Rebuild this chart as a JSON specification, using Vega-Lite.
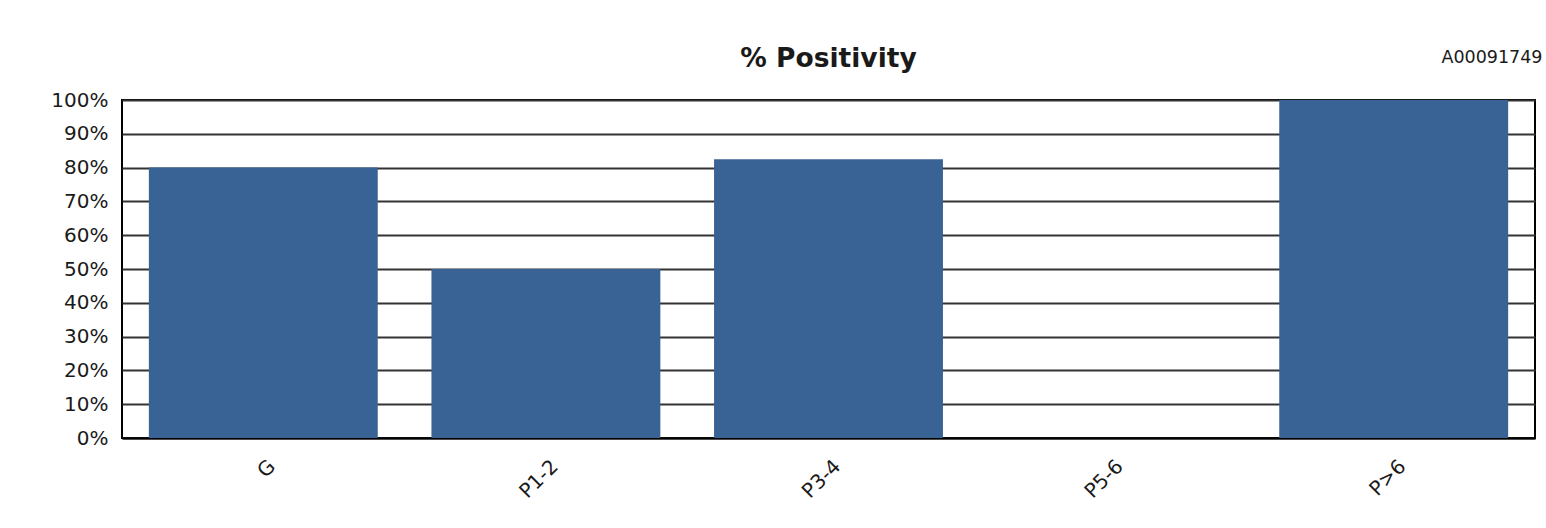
{
  "$schema": "https://vega.github.io/schema/vega-lite/v6.json",
  "autosize": {"type": "none"},
  "padding": {"left": 122, "top": 100, "right": 11, "bottom": 90},
  "width": 1413,
  "height": 338,
  "background": "white",
  "title": {
    "text": "% Positivity",
    "font": "DejaVu Sans",
    "fontSize": 26.5,
    "fontWeight": "bold",
    "color": "#1a1a1a",
    "anchor": "middle",
    "frame": "group",
    "baseline": "alphabetic",
    "offset": 4,
    "dy": 49
  },
  "data": {
    "values": [
      {"group": "G", "positivity": 0.80},
      {"group": "P1-2", "positivity": 0.50},
      {"group": "P3-4", "positivity": 0.825},
      {"group": "P5-6", "positivity": 0},
      {"group": "P>6", "positivity": 1.0}
    ]
  },
  "mark": {"type": "bar", "color": "#386394"},
  "encoding": {
    "x": {
      "field": "group",
      "type": "nominal",
      "sort": null,
      "scale": {"paddingInner": 0.19, "paddingOuter": 0.095},
      "axis": {
        "title": "A00091749",
        "titleFont": "DejaVu Sans",
        "titleFontSize": 17.5,
        "titleFontWeight": "normal",
        "titleColor": "#1a1a1a",
        "titleAngle": 0,
        "titleAlign": "right",
        "titleBaseline": "alphabetic",
        "titleAnchor": "end",
        "titleX": 1420,
        "titleY": -376,
        "labelAngle": -45,
        "labelAlign": "right",
        "labelBaseline": "middle",
        "labelOffset": 9,
        "labelPadding": 25,
        "labelFont": "DejaVu Sans",
        "labelFontSize": 20,
        "labelColor": "#1a1a1a",
        "ticks": false,
        "domain": true,
        "domainColor": "black",
        "domainWidth": 2,
        "grid": false
      }
    },
    "y": {
      "field": "positivity",
      "type": "quantitative",
      "scale": {"domain": [0, 1], "nice": false},
      "axis": {
        "title": null,
        "values": [0, 0.1, 0.2, 0.3, 0.4, 0.5, 0.6, 0.7, 0.8, 0.9, 1.0],
        "format": ".0%",
        "labelFont": "DejaVu Sans",
        "labelFontSize": 20,
        "labelColor": "#1a1a1a",
        "labelPadding": 14,
        "ticks": false,
        "domain": false,
        "grid": true,
        "gridColor": "#333333",
        "gridWidth": 2,
        "gridOpacity": 1
      }
    }
  },
  "config": {
    "view": {"stroke": "black", "strokeWidth": 2}
  }
}
